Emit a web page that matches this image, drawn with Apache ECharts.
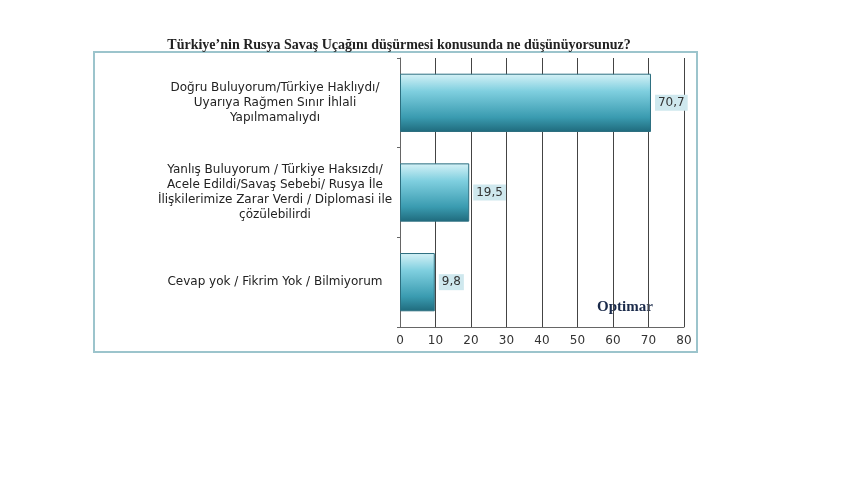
<!DOCTYPE html>
<html><head><meta charset="utf-8">
<script src="https://cdn.jsdelivr.net/npm/echarts@6/dist/echarts.min.js"></script>
<style>html,body{margin:0;background:#fff}#c{width:860px;height:480px}</style>
</head><body><div id="c"></div>
<script>
const categories = [
  "Doğru Buluyorum/Türkiye Haklıydı/\nUyarıya Rağmen Sınır İhlali\nYapılmamalıydı",
  "Yanlış Buluyorum / Türkiye Haksızdı/\nAcele Edildi/Savaş Sebebi/ Rusya İle\nİlişkilerimize Zarar Verdi / Diplomasi ile\nçözülebilirdi",
  "Cevap yok / Fikrim Yok / Bilmiyorum"
];
const values = [70.7, 19.5, 9.8];
const chart = echarts.init(document.getElementById('c'));
chart.setOption({
  animation:false,
  title:{text:"Türkiye’nin Rusya Savaş Uçağını düşürmesi konusunda ne düşünüyorsunuz?",left:394,top:33,textAlign:'center',
    textStyle:{fontFamily:'Liberation Serif',fontWeight:'bold',fontSize:14,color:'#222'}},
  graphic:[
    {type:'rect',shape:{x:94,y:52,width:603,height:300},style:{fill:'none',stroke:'#9cc4cc',lineWidth:2},z:-1},
    {type:'text',left:597,top:300,style:{text:'Optimar',font:'bold 15px Liberation Serif',fill:'#1a2a4a'}}
  ],
  grid:{left:400,right:176,top:58,bottom:153},
  xAxis:{type:'value',min:0,max:80,interval:10,
    axisLine:{show:true,lineStyle:{color:'#666'}},axisTick:{show:false},
    splitLine:{lineStyle:{color:'#444',width:1}},
    axisLabel:{color:'#333',fontSize:12,fontFamily:'DejaVu Sans',margin:8}},
  yAxis:{type:'category',data:categories,inverse:true,
    axisLine:{lineStyle:{color:'#666'}},axisTick:{show:true,length:3},
    axisLabel:{color:'#222',fontSize:12,fontFamily:'DejaVu Sans',align:'center',margin:125,lineHeight:15}},
  series:[{type:'bar',data:values,barCategoryGap:'35%',
    itemStyle:{borderColor:'#2c6f80',borderWidth:1,
      color:new echarts.graphic.LinearGradient(0,0,0,1,[
        {offset:0,color:'#d6f2f7'},{offset:0.3,color:'#7fcfdf'},{offset:0.75,color:'#3a9bb0'},{offset:1,color:'#1f6a7c'}])},
    label:{show:true,position:'right',distance:4,color:'#333',fontSize:12,fontFamily:'DejaVu Sans',
      formatter:p=>String(p.value).replace('.',','),backgroundColor:'#cfe8ee',padding:[2,3]}}]
});
</script></body></html>
